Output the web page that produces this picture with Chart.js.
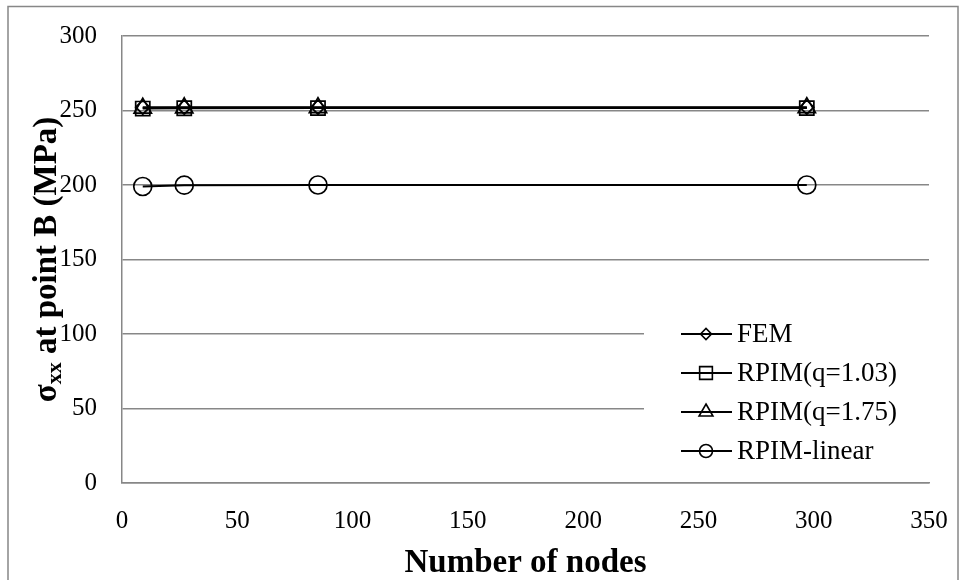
<!DOCTYPE html>
<html>
<head>
<meta charset="utf-8">
<script src="https://cdn.jsdelivr.net/npm/chart.js@4"></script>
<style>
  html, body { margin: 0; padding: 0; background: #fff; }
  #wrap { width: 962px; height: 580px; }
</style>
</head>
<body>
<div id="wrap"><canvas id="myChart" width="962" height="580"></canvas></div>
<script>
const nodeCounts = [9, 27, 85, 297];
const femValues = [252.2, 252.2, 252.2, 252.2];
const rpim103Values = [251.3, 251.5, 251.6, 251.6];
const rpim175Values = [251.6, 251.8, 251.9, 251.9];
const rpimLinearValues = [199.0, 199.9, 200.0, 200.0];
const seriesNames = ['FEM', 'RPIM(q=1.03)', 'RPIM(q=1.75)', 'RPIM-linear'];
const xTickValues = [0, 50, 100, 150, 200, 250, 300, 350];
const yTickValues = [0, 50, 100, 150, 200, 250, 300];

const serif = '"Liberation Serif", "Times New Roman", serif';
const gridGray = '#878787';

function toPoints(values) {
  return nodeCounts.map((n, i) => ({ x: n, y: values[i] }));
}

function makeSeries(label, values, pointStyle, radius) {
  return {
    label: label,
    data: toPoints(values),
    borderColor: '#000',
    borderWidth: 2,
    pointStyle: pointStyle,
    pointRadius: radius,
    pointHoverRadius: radius,
    pointBorderColor: '#000',
    pointBorderWidth: 1.7,
    pointBackgroundColor: 'rgba(0,0,0,0)',
    tension: 0,
    clip: false,
  };
}

// legend marker sizes are smaller than the plotted ones
const legendRadius = [5.5, 9, 8, 6.5];

// page frame, legend box and the y title with its subscript
const decorPlugin = {
  id: 'decor',
  beforeDraw(chart) {
    const ctx = chart.ctx;
    ctx.save();
    ctx.fillStyle = '#fff';
    ctx.fillRect(0, 0, chart.width, chart.height);
    ctx.strokeStyle = gridGray;
    ctx.lineWidth = 1.5;
    ctx.strokeRect(8, 6.5, chart.width - 12, chart.height - 4);
    ctx.restore();
  },
  beforeDatasetsDraw(chart) {
    const ctx = chart.ctx;
    const area = chart.chartArea;
    const left = area.right - 285;
    ctx.save();
    ctx.fillStyle = '#fff';
    ctx.fillRect(left, area.bottom - 168, 285, 155);
    chart.data.datasets.forEach((ds, i) => {
      const y = area.bottom - 149 + i * 39;
      ctx.strokeStyle = '#000';
      ctx.lineWidth = 2;
      ctx.beginPath();
      ctx.moveTo(left + 37, y);
      ctx.lineTo(left + 88, y);
      ctx.stroke();
      ctx.fillStyle = 'rgba(0,0,0,0)';
      ctx.lineWidth = 1.6;
      Chart.helpers.drawPoint(ctx, {
        pointStyle: ds.pointStyle,
        radius: legendRadius[i],
        borderWidth: 1.6,
        rotation: 0,
      }, left + 62, y);
      ctx.fillStyle = '#000';
      ctx.font = '27px ' + serif;
      ctx.textAlign = 'left';
      ctx.textBaseline = 'middle';
      ctx.fillText(seriesNames[i], left + 93, y + 1);
    });
    ctx.restore();
  },
  afterDraw(chart) {
    const ctx = chart.ctx;
    const area = chart.chartArea;
    const main = 'bold 33px ' + serif;
    const sub = 'bold 22px ' + serif;
    ctx.save();
    ctx.font = main;
    const wSigma = ctx.measureText('σ').width;
    const wRest = ctx.measureText(' at point B (MPa)').width;
    ctx.font = sub;
    const wSub = ctx.measureText('xx').width;
    const total = wSigma + wSub + wRest;
    ctx.translate(47, (area.top + area.bottom) / 2);
    ctx.rotate(-Math.PI / 2);
    ctx.fillStyle = '#000';
    ctx.textAlign = 'left';
    ctx.textBaseline = 'middle';
    let x = -total / 2;
    ctx.font = main;
    ctx.fillText('σ', x, 0);
    x += wSigma;
    ctx.font = sub;
    ctx.fillText('xx', x, 8);
    x += wSub;
    ctx.font = main;
    ctx.fillText(' at point B (MPa)', x, 0);
    ctx.restore();
  },
};

const chartData = {
  datasets: [
    makeSeries(seriesNames[0], femValues, 'rectRot', 7),
    makeSeries(seriesNames[1], rpim103Values, 'rect', 10),
    makeSeries(seriesNames[2], rpim175Values, 'triangle', 10),
    makeSeries(seriesNames[3], rpimLinearValues, 'circle', 9),
  ],
};

const chartOptions = {
  responsive: false,
  animation: false,
  layout: { padding: { left: 0, top: 36, right: 33, bottom: 0 } },
  plugins: {
    legend: { display: false },
    tooltip: { enabled: false },
  },
  scales: {
    x: {
      type: 'linear',
      min: 0,
      max: 350,
      afterBuildTicks(scale) {
        scale.ticks = xTickValues.map(v => ({ value: v }));
      },
      afterFit(scale) {
        scale.height = 97;
        scale.paddingLeft = 0;
        scale.paddingRight = 0;
      },
      grid: { display: false, drawTicks: false },
      border: { display: true, color: gridGray, width: 1.5 },
      ticks: {
        color: '#000',
        padding: 23,
        maxRotation: 0,
        font: { family: serif, size: 25 },
      },
      title: {
        display: true,
        text: 'Number of nodes',
        color: '#000',
        font: { family: serif, size: 33, weight: 'bold' },
        padding: { top: 0, bottom: -3 },
      },
    },
    y: {
      min: 0,
      max: 300,
      afterBuildTicks(scale) {
        scale.ticks = yTickValues.map(v => ({ value: v }));
      },
      afterFit(scale) {
        scale.width = 122;
        scale.paddingTop = 0;
        scale.paddingBottom = 0;
      },
      grid: { color: gridGray, lineWidth: 1.5, drawTicks: false },
      border: { display: true, color: gridGray, width: 1.5 },
      ticks: {
        color: '#000',
        padding: 25,
        font: { family: serif, size: 25 },
      },
    },
  },
};

const myChart = new Chart(document.getElementById('myChart').getContext('2d'), {
  type: 'line',
  data: chartData,
  options: chartOptions,
  plugins: [decorPlugin],
});
</script>
</body>
</html>
